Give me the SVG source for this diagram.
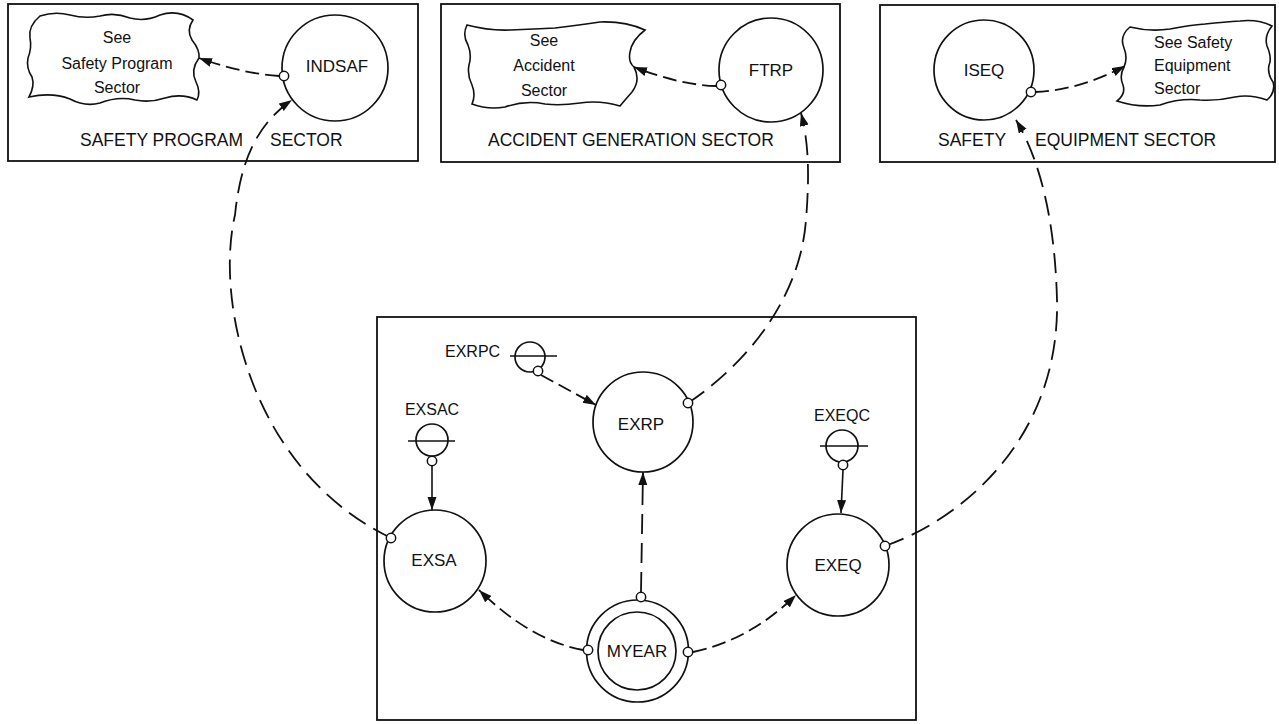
<svg xmlns="http://www.w3.org/2000/svg" width="1279" height="724" viewBox="0 0 1279 724">
<defs>
<style>
text{font-family:"Liberation Sans",Arial,Helvetica,sans-serif;fill:#111}
.lbl{font-size:17.5px}
.sm{font-size:16px}
.node{font-size:17px;text-anchor:middle}
.box{fill:none;stroke:#111;stroke-width:1.8}
.c{fill:#fff;stroke:#111;stroke-width:1.7}
.cloud{fill:#fff;stroke:#111;stroke-width:1.6}
.port{fill:#fff;stroke:#111;stroke-width:1.5}
.ln{fill:none;stroke:#111;stroke-width:1.6}
.dl{fill:none;stroke:#111;stroke-width:1.8;stroke-dasharray:20 9;marker-end:url(#ah)}
.ds{fill:none;stroke:#111;stroke-width:1.8;stroke-dasharray:14 6;marker-end:url(#ah)}
.sl{fill:none;stroke:#111;stroke-width:1.6;marker-end:url(#ah)}
</style>
<marker id="ah" markerUnits="userSpaceOnUse" markerWidth="14" markerHeight="10" refX="13" refY="4.5" orient="auto">
<path d="M0,0 L13,4.5 L0,9 Z" fill="#111"/>
</marker>
</defs>
<rect width="1279" height="724" fill="#fff"/>

<g id="sector-safety-program">
<rect class="box" x="8" y="4" width="410" height="157"/>
<text class="lbl" y="146"><tspan x="80">SAFETY PROGRAM</tspan><tspan x="270">SECTOR</tspan></text>
</g>
<g id="sector-accident">
<rect class="box" x="441" y="4" width="399" height="158"/>
<text class="lbl" x="488" y="146">ACCIDENT GENERATION SECTOR</text>
</g>
<g id="sector-equipment">
<rect class="box" x="880" y="5" width="395" height="157"/>
<text class="lbl" y="146"><tspan x="938">SAFETY</tspan><tspan x="1035">EQUIPMENT SECTOR</tspan></text>
</g>
<g id="main-sector">
<rect class="box" x="377" y="317" width="539" height="403"/>
</g>

<g id="cloud-safety-program">
<path class="cloud" d="M 40 16 Q 55 11 70 15 Q 85 19 100 16 Q 115 12 130 18 Q 145 22 160 15 Q 178 9 193 20 Q 186 30 192 40 Q 200 50 199 58 Q 190 70 196 82 Q 201 92 197 100 Q 182 93 165 98 Q 150 103 135 100 Q 118 96 100 103 Q 85 107 70 99 Q 52 92 29 97 Q 35 86 32 77 Q 26 68 28 58 Q 32 48 30 38 Q 28 26 40 16 Z"/>
<text class="sm" text-anchor="middle"><tspan x="117" y="43">See</tspan><tspan x="117" y="69">Safety Program</tspan><tspan x="117" y="93">Sector</tspan></text>
</g>
<g id="cloud-accident">
<path class="cloud" d="M 467 25 Q 490 31 510 30 Q 535 29 555 28 Q 580 25 600 22 Q 625 21 645 30 Q 632 40 630 52 Q 628 62 634 67 Q 641 80 632 92 Q 625 100 620 106 Q 600 100 580 103 Q 560 106 545 104 Q 525 100 505 107 Q 488 110 472 104 Q 476 95 472 85 Q 467 75 469 65 Q 472 55 468 45 Q 462 35 467 25 Z"/>
<text class="sm" text-anchor="middle"><tspan x="544" y="46">See</tspan><tspan x="544" y="71">Accident</tspan><tspan x="544" y="96">Sector</tspan></text>
</g>
<g id="cloud-equipment">
<path class="cloud" d="M 1130 27 Q 1150 32 1170 29 Q 1190 25 1205 24 Q 1225 22 1240 21 Q 1258 19 1272 26 Q 1264 36 1267 46 Q 1271 55 1270 62 Q 1266 72 1273 82 Q 1276 92 1267 100 Q 1250 94 1235 97 Q 1218 101 1200 100 Q 1180 98 1160 105 Q 1138 108 1117 101 Q 1126 94 1123 85 Q 1119 76 1124 67 Q 1128 58 1124 48 Q 1119 36 1130 27 Z"/>
<text class="sm"><tspan x="1154" y="48">See Safety</tspan><tspan x="1154" y="71">Equipment</tspan><tspan x="1154" y="94">Sector</tspan></text>
</g>

<g id="connectors">
<path class="ds" d="M 279 76 Q 240 73 199 58"/>
<path class="ds" d="M 716 86 Q 680 85 634 67"/>
<path class="ds" d="M 1035 92 Q 1080 90 1125 66"/>
<path class="dl" d="M 391 538 C 250 470, 215 300, 235 215 C 240 165, 255 125, 292 100"/>
<path class="dl" d="M 688 403 C 745 365, 800 300, 806 220 C 810 170, 808 140, 801 113"/>
<path class="dl" d="M 885 546 C 960 520, 1060 440, 1057 300 C 1055 220, 1040 160, 1016 120"/>
<path class="ds" d="M 541 375 L 596 405"/>
<path class="sl" d="M 432 466 L 432 510"/>
<path class="sl" d="M 843 470 L 841 513"/>
<path class="dl" d="M 641 592 L 643 472"/>
<path class="ds" d="M 583 650 Q 530 640 479 590"/>
<path class="ds" d="M 693 652 Q 750 640 796 595"/>
</g>

<g id="INDSAF">
<circle class="c" cx="335" cy="68" r="53"/>
<text class="node" x="337" y="72">INDSAF</text>
<circle class="port" cx="284" cy="76" r="4.7"/>
</g>
<g id="FTRP">
<circle class="c" cx="771" cy="70" r="52"/>
<text class="node" x="771" y="76">FTRP</text>
<circle class="port" cx="721" cy="85" r="4.7"/>
</g>
<g id="ISEQ">
<circle class="c" cx="984" cy="70" r="50"/>
<text class="node" x="984" y="76">ISEQ</text>
<circle class="port" cx="1031" cy="92" r="4.7"/>
</g>

<g id="EXRPC">
<text class="sm" x="445" y="357">EXRPC</text>
<circle class="c" cx="530" cy="357" r="15"/>
<line class="ln" x1="510" y1="356" x2="557" y2="356"/>
<circle class="port" cx="538" cy="371" r="4.7"/>
</g>
<g id="EXSAC">
<text class="sm" x="432" y="415" text-anchor="middle">EXSAC</text>
<circle class="c" cx="432" cy="440" r="16"/>
<line class="ln" x1="408" y1="441" x2="455" y2="441"/>
<circle class="port" cx="432" cy="461" r="4.7"/>
</g>
<g id="EXEQC">
<text class="sm" x="842" y="421" text-anchor="middle">EXEQC</text>
<circle class="c" cx="842" cy="446" r="16"/>
<line class="ln" x1="820" y1="446" x2="868" y2="446"/>
<circle class="port" cx="843" cy="465" r="4.7"/>
</g>

<g id="EXRP">
<circle class="c" cx="643" cy="422" r="50"/>
<text class="node" x="641" y="430">EXRP</text>
<circle class="port" cx="688" cy="403" r="4.7"/>
</g>
<g id="EXSA">
<circle class="c" cx="435" cy="561" r="51"/>
<text class="node" x="434" y="566">EXSA</text>
<circle class="port" cx="391" cy="538" r="4.7"/>
</g>
<g id="EXEQ">
<circle class="c" cx="838" cy="565" r="51"/>
<text class="node" x="838" y="571">EXEQ</text>
<circle class="port" cx="885" cy="546" r="4.7"/>
</g>
<g id="MYEAR">
<circle class="c" cx="637.5" cy="651" r="51"/>
<circle class="c" cx="637" cy="651" r="39"/>
<text class="node" x="637" y="657">MYEAR</text>
<circle class="port" cx="641" cy="597" r="4.7"/>
<circle class="port" cx="588" cy="650" r="4.7"/>
<circle class="port" cx="688" cy="652" r="4.7"/>
</g>
</svg>
